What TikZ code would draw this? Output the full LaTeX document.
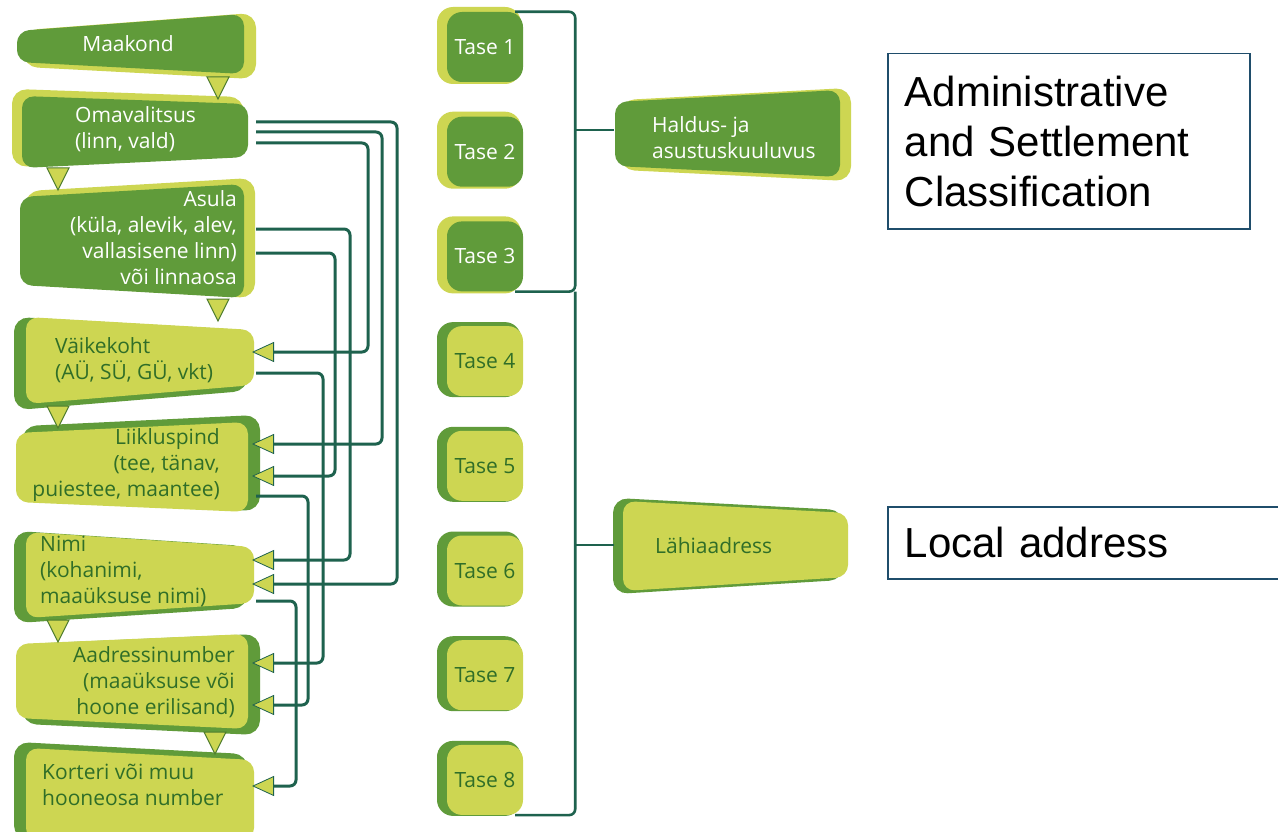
\documentclass[tikz,border=0pt]{standalone}
\usepackage{fontspec}
\setmainfont{Open Sans}
\newfontfamily\engfont{Liberation Sans}
\usetikzlibrary{arrows.meta}

\definecolor{dkgreen}{RGB}{96,155,58}
\definecolor{ltgreen}{RGB}{205,214,82}
\definecolor{linkc}{RGB}{30,98,78}
\definecolor{txtgreen}{RGB}{48,110,40}
\definecolor{framec}{RGB}{31,77,107}

% slab: back colour, front colour, back offset, four corners
\newcommand{\slab}[7]{%
  \filldraw[#1, line width=6pt, rounded corners=12pt, shift={#3}] #4 -- #5 -- #6 -- #7 -- cycle;
  \fill[#2, rounded corners=12pt] #4 -- #5 -- #6 -- #7 -- cycle;}
\newcommand{\notch}[2]{%
  \filldraw[fill=ltgreen, draw=dkgreen!80!black, line width=1pt] (#1-11,#2) -- (#1+11,#2) -- (#1,#2+22) -- cycle;}

\begin{document}
\begin{tikzpicture}[x=1pt,y=-1pt,
	lbl/.style={inner sep=0pt, font=\fontsize{21}{26}\selectfont},
	onlt/.style={lbl, text=txtgreen},
	ondk/.style={lbl, text=white},
	link/.style={draw=linkc, line width=3pt, rounded corners=6pt,
		-{Triangle[length=22pt, width=20pt, fill=ltgreen, line width=0.8pt 0]}},
	bracket/.style={draw=linkc, line width=2.6pt, rounded corners=6pt},
	tase/.style={rounded corners=15pt, minimum width=76pt, minimum height=70pt, inner sep=0pt, font=\fontsize{21}{26}\selectfont},
	engbox/.style={draw=framec, line width=1.5pt, align=left, inner xsep=17pt, font=\engfont\fontsize{42}{50}\selectfont}]
	\fill[white] (0,0) rectangle (1278,832);
	\clip (0,0) rectangle (1278,832);
	
	\slab{ltgreen}{dkgreen}{(9,2)}{(17,31)}{(244,14)}{(244,74)}{(17,62)}
	\slab{ltgreen}{dkgreen}{(-7,-4)}{(22,96)}{(248,104)}{(248,157)}{(22,168)}
	\slab{ltgreen}{dkgreen}{(8,-3)}{(20,197)}{(244,184)}{(244,298)}{(20,285)}
	\slab{dkgreen}{ltgreen}{(-9,3)}{(26,317)}{(254,330)}{(254,385)}{(26,404)}
	\slab{dkgreen}{ltgreen}{(9,-4)}{(16,433)}{(248,422)}{(248,512)}{(16,502)}
	\slab{dkgreen}{ltgreen}{(-9,2)}{(26,532)}{(254,547)}{(254,603)}{(26,618)}
	\slab{dkgreen}{ltgreen}{(9,3)}{(16,644)}{(248,634)}{(248,729)}{(16,718)}
	\slab{dkgreen}{ltgreen}{(-9,-3)}{(26,748)}{(254,760)}{(254,840)}{(26,840)}
	
	\notch{218}{77}
	\notch{58}{168}
	\notch{218}{299}
	\notch{58}{406}
	\notch{58}{620}
	\notch{215}{732}
	
	\node[ondk] (maakond) at (128,44) {Maakond};
	\node[ondk, align=left, anchor=west] (omavalitsus) at (75,129) {Omavalitsus\\(linn, vald)};
	\node[ondk, align=right, anchor=east] (asula) at (237,238) {Asula\\(küla, alevik, alev,\\vallasisene linn)\\või linnaosa};
	\node[onlt, align=left, anchor=west] (vaikekoht) at (55,360) {Väikekoht\\(AÜ, SÜ, GÜ, vkt)};
	\node[onlt, align=right, anchor=east] (liikluspind) at (220,465) {Liikluspind\\(tee, tänav,\\puiestee, maantee)};
	\node[onlt, align=left, anchor=west] (nimi) at (40,571) {Nimi\\(kohanimi,\\maaüksuse nimi)};
	\node[onlt, align=right, anchor=east] (aadress) at (235,682) {Aadressinumber\\(maaüksuse või\\hoone erilisand)};
	\node[onlt, align=left, anchor=west] (korteri) at (42,785) {Korteri või muu\\hooneosa number};
	
	\coordinate (oma-a) at (256,122);
	\coordinate (oma-b) at (256,132);
	\coordinate (oma-c) at (256,143);
	\coordinate (asula-a) at (256,229);
	\coordinate (asula-b) at (256,253);
	\coordinate (vaik-o) at (256,373);
	\coordinate (liik-o) at (256,496);
	\coordinate (nimi-o) at (256,601);
	\coordinate (vaik-a) at (252,352);
	\coordinate (liik-a) at (252,444);
	\coordinate (liik-b) at (252,476);
	\coordinate (nimi-a) at (252,560);
	\coordinate (nimi-b) at (252,584);
	\coordinate (aadr-a) at (252,663);
	\coordinate (aadr-b) at (252,705);
	\coordinate (korteri-a) at (252,786);
	
	\draw[link] (oma-a) -- ++(141,0) |- (nimi-b);
	\draw[link] (oma-b) -- ++(126,0) |- (liik-a);
	\draw[link] (oma-c) -- ++(112,0) |- (vaik-a);
	\draw[link] (asula-a) -- ++(94,0) |- (nimi-a);
	\draw[link] (asula-b) -- ++(79,0) |- (liik-b);
	\draw[link] (vaik-o) -- ++(67,0) |- (aadr-a);
	\draw[link] (liik-o) -- ++(52,0) |- (aadr-b);
	\draw[link] (nimi-o) -- ++(40,0) |- (korteri-a);
	
	\foreach \i [evaluate=\i as \ty using 47+104.7*(\i-1)] in {1,...,8}{
		\ifnum\i<4
		\fill[ltgreen, rounded corners=16pt] (437,\ty-40) rectangle (521,\ty+37);
		\node[tase, fill=dkgreen, text=white] (t\i) at (485,\ty) {Tase \i};
		\else
		\fill[dkgreen, rounded corners=16pt] (437,\ty-39) rectangle (521,\ty+36);
		\node[tase, fill=ltgreen, text=txtgreen] (t\i) at (485,\ty) {Tase \i};
		\fi
	}
	
	\slab{ltgreen}{dkgreen}{(8,1)}{(615,102)}{(840,90)}{(840,177)}{(615,166)}
	\node[ondk, align=left, anchor=west] (haldus) at (652,138) {Haldus- ja\\asustuskuuluvus};
	\slab{dkgreen}{ltgreen}{(-7,0)}{(623,501)}{(848,513)}{(848,577)}{(623,591)}
	\node[onlt, anchor=west] (lahiaadress) at (655,546) {Lähiaadress};
	\coordinate (haldus-in) at (614,130);
	\coordinate (lahi-in) at (614,545);
	
	\coordinate (hub) at ([xshift=52pt]t3.south east);
	\draw[bracket] ([xshift=-8pt]t1.north east) -| (hub) -- ([xshift=-8pt]t3.south east);
	\draw[bracket] (hub) |- ([xshift=-8pt]t8.south east);
	\draw[bracket] (hub |- haldus-in) -- (haldus-in);
	\draw[bracket] (hub |- lahi-in) -- (lahi-in);
	
	\node[engbox, text width=328pt, minimum height=175pt, anchor=north west] (admin) at (887,53) {Administrative\\and Settlement\\Classification};
	\node[engbox, text width=400pt, minimum height=72pt, anchor=north west] (local) at (887,506) {Local address};
\end{tikzpicture}
\end{document}
